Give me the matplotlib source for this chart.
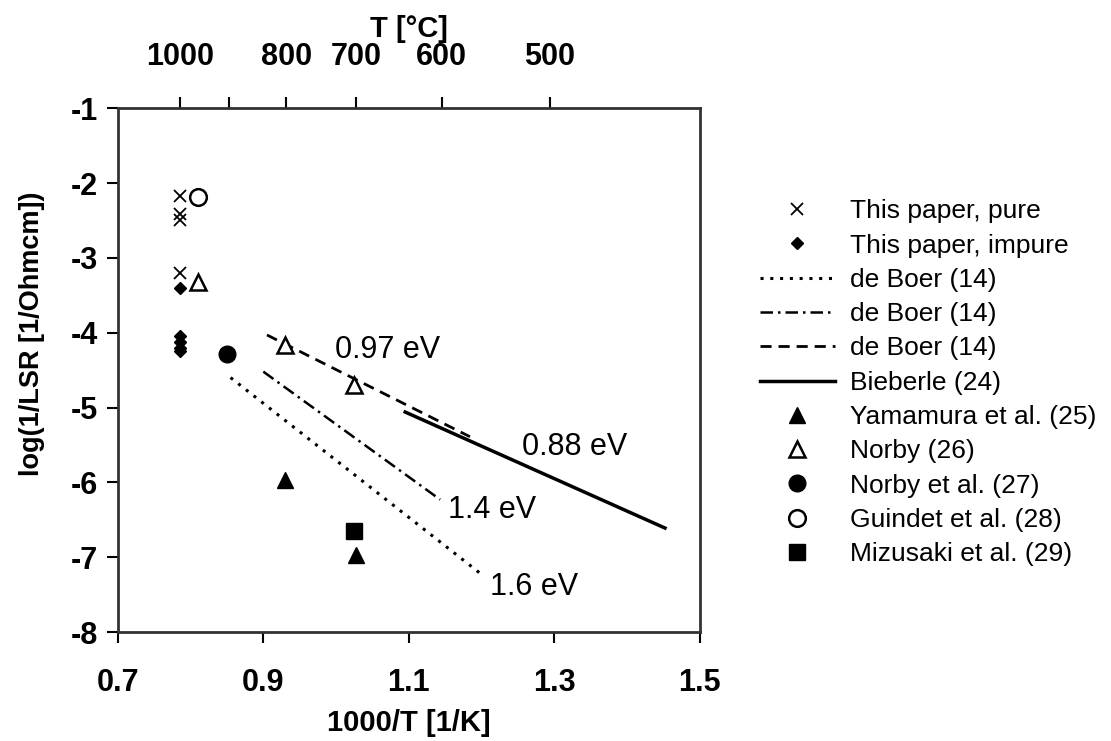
import matplotlib
matplotlib.use("Agg")
import matplotlib.pyplot as plt

plt.rcParams['font.family'] = ['Liberation Sans', 'DejaVu Sans']
plt.rcParams['axes.unicode_minus'] = False

# data
pure_x = [0.7855, 0.7855, 0.7855, 0.7855]
pure_y = [-2.17, -2.42, -2.50, -3.20]
impure_x = [0.7855, 0.7855, 0.7855, 0.7855, 0.7855]
impure_y = [-3.40, -4.05, -4.12, -4.20, -4.25]
yamamura_x = [0.93, 1.027]
yamamura_y = [-5.97, -6.97]
norby_x = [0.81, 0.93, 1.025]
norby_y = [-3.32, -4.16, -4.70]
norby_al_x = [0.85]
norby_al_y = [-4.28]
guindet_x = [0.81]
guindet_y = [-2.19]
mizusaki_x = [1.025]
mizusaki_y = [-6.65]

deboer16_x = [0.855, 1.20]
deboer16_y = [-4.60, -7.23]
deboer14_x = [0.90, 1.143]
deboer14_y = [-4.52, -6.23]
deboer097_x = [0.905, 1.184]
deboer097_y = [-4.03, -5.39]
bieberle_x = [1.095, 1.452]
bieberle_y = [-5.06, -6.61]

ev_labels = ["0.97 eV", "0.88 eV", "1.4 eV", "1.6 eV"]
ev_x = [0.998, 1.255, 1.154, 1.211]
ev_y = [-4.23, -5.53, -6.37, -7.40]

xticks = [0.7, 0.9, 1.1, 1.3, 1.5]
yticks = [-1, -2, -3, -4, -5, -6, -7, -8]
top_ticks = [1000, 900, 800, 700, 600, 500]
top_labels = ["1000", "", "800", "700", "600", "500"]

fig = plt.figure(figsize=(11.11, 7.41), dpi=100)
ax = fig.add_axes([0.106, 0.147, 0.524, 0.707])

ax.plot(pure_x, pure_y, 'x', color='black', ms=8, mew=1.3, ls='none', label='This paper, pure')
ax.plot(impure_x, impure_y, 'D', color='black', ms=6, ls='none', label='This paper, impure')
ax.plot(deboer16_x, deboer16_y, color='black', lw=2.2, ls=(0, (1, 2.2)), label='de Boer (14)')
ax.plot(deboer14_x, deboer14_y, color='black', lw=1.8, ls=(0, (5, 2, 1, 2)), label='de Boer (14)')
ax.plot(deboer097_x, deboer097_y, color='black', lw=2, ls=(0, (4, 2.5)), label='de Boer (14)')
ax.plot(bieberle_x, bieberle_y, color='black', lw=2.5, label='Bieberle (24)')
ax.plot(yamamura_x, yamamura_y, '^', color='black', ms=12, ls='none', label='Yamamura et al. (25)')
ax.plot(norby_x, norby_y, '^', color='black', mfc='white', mew=1.8, ms=12, ls='none', label='Norby (26)')
ax.plot(norby_al_x, norby_al_y, 'o', color='black', ms=12, ls='none', label='Norby et al. (27)')
ax.plot(guindet_x, guindet_y, 'o', color='black', mfc='white', mew=1.8, ms=12, ls='none', label='Guindet et al. (28)')
ax.plot(mizusaki_x, mizusaki_y, 's', color='black', ms=11, ls='none', label='Mizusaki et al. (29)')

for t, x, y in zip(ev_labels, ev_x, ev_y):
    ax.text(x, y, t, fontsize=22, va='center', ha='left')

ax.set_xlim(0.7, 1.5)
ax.set_ylim(-8, -1)
ax.set_xticks(xticks)
ax.set_xticklabels([f"{v:.1f}" for v in xticks], fontweight='bold', fontsize=22)
ax.set_yticks(yticks)
ax.set_yticklabels([str(v) for v in yticks], fontweight='bold', fontsize=22)
ax.tick_params(axis='both', direction='out', length=8, width=1.5, pad=6)
ax.tick_params(axis='x', pad=18)
for s in ax.spines.values():
    s.set_linewidth(2)
    s.set_color('#333333')

ax.set_xlabel("1000/T [1/K]", fontweight='bold', fontsize=21, labelpad=8)
ax.set_ylabel("log(1/LSR [1/Ohmcm])", fontweight='bold', fontsize=19.5)
ax.yaxis.set_label_coords(-0.125, 0.57)

top = ax.secondary_xaxis('top', functions=(lambda x: 1000 / x - 273.15,
                                           lambda t: 1000 / (t + 273.15)))
top.set_xticks(top_ticks)
top.set_xticklabels(top_labels, fontweight='bold', fontsize=22)
top.tick_params(direction='out', length=8, width=1.5, pad=18)
top.set_xlabel("T [°C]", fontweight='bold', fontsize=21, labelpad=4)

fig.legend(loc='upper left', bbox_to_anchor=(0.684, 0.731), frameon=False,
           fontsize=19, handlelength=2.84, handletextpad=0.57, labelspacing=0.39,
           borderaxespad=0, borderpad=0)

fig.savefig("out.png", dpi=100)
